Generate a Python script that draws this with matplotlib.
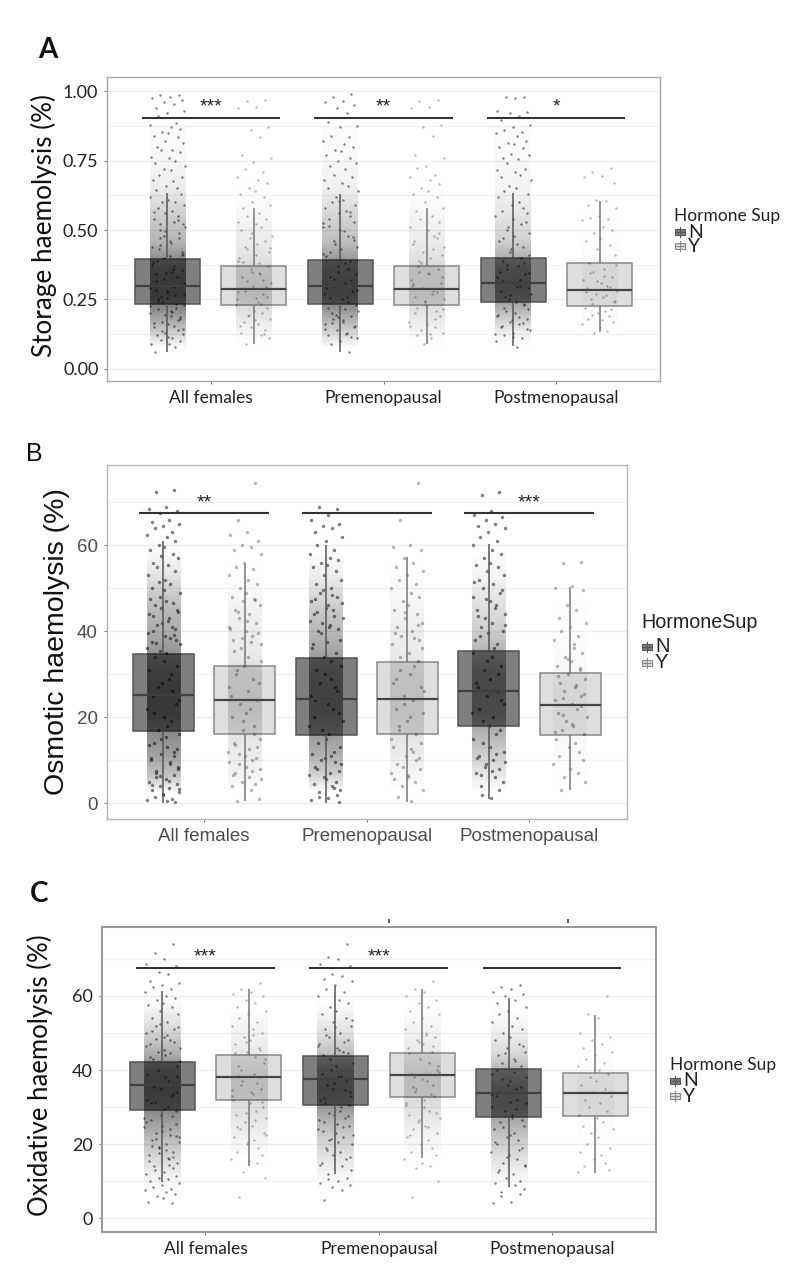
import numpy as np
import matplotlib
matplotlib.use("Agg")
import matplotlib.pyplot as plt
from matplotlib.patches import Rectangle
from matplotlib.lines import Line2D

W, H = 794, 1270
categories = ["All females", "Premenopausal", "Postmenopausal"]
hormone = ["N", "Y"]

# box statistics per group: whisker low, q1, median, q3, whisker high
A_stats = [[.06, .235, .300, .395, .635], [.09, .230, .288, .372, .578],
           [.06, .232, .298, .393, .630], [.09, .230, .288, .372, .578],
           [.082, .239, .308, .400, .633], [.132, .225, .283, .383, .603]]
B_stats = [[0, 16.8, 25.2, 34.6, 61], [.5, 16.1, 24.1, 31.9, 55.6],
           [0, 15.8, 24.3, 33.7, 60], [.3, 16.2, 24.2, 32.8, 57.3],
           [1, 18, 26.2, 35.3, 60.2], [3, 15.9, 22.8, 30.3, 50.2]]
C_stats = [[9.9, 29.3, 36, 42.3, 61.2], [14, 31.8, 38, 44, 61.9],
           [12, 30.7, 37.7, 43.7, 62.7], [16.2, 32.6, 38.7, 44.5, 62],
           [8.4, 27.4, 33.7, 40.2, 59.5], [12.3, 27.5, 33.9, 39.2, 54.9]]

# visual density of the jitter cloud, estimated by eye per value band
A_levels = [.05, .10, .15, .20, .25, .30, .35, .40, .45, .50, .55, .60, .65, .70, .75, .80, .85, .90, .95, 1.0]
A_shade = [[0, .16, .32, .46, .55, .55, .52, .42, .30, .25, .20, .14, .08, .06, .04, .03, .02, .01, 0, 0],
           [0, .03, .08, .13, .17, .17, .15, .11, .08, .06, .04, .02, .01, 0, 0, 0, 0, 0, 0, 0],
           [0, .14, .28, .42, .50, .50, .47, .38, .26, .21, .17, .12, .07, .05, .03, .02, .02, .01, 0, 0],
           [0, .03, .08, .12, .16, .16, .15, .11, .08, .06, .04, .02, .01, 0, 0, 0, 0, 0, 0, 0],
           [0, .05, .16, .30, .44, .46, .42, .30, .20, .15, .11, .08, .05, .04, .03, .02, .02, .01, 0, 0],
           [0, 0, .01, .02, .03, .04, .03, .02, .01, .01, .01, 0, 0, 0, 0, 0, 0, 0, 0, 0]]
B_levels = [0, 5, 10, 15, 20, 25, 30, 35, 40, 45, 50, 55, 60, 65, 70]
B_shade = [[0, .26, .38, .46, .55, .55, .52, .42, .32, .28, .20, .09, .02, 0, 0],
           [0, .05, .08, .11, .15, .15, .14, .08, .07, .06, .03, .01, 0, 0, 0],
           [0, .20, .32, .40, .48, .48, .46, .36, .28, .22, .14, .06, .01, 0, 0],
           [0, .04, .08, .11, .14, .14, .13, .08, .07, .05, .03, .01, 0, 0, 0],
           [0, .10, .20, .30, .42, .44, .42, .30, .20, .14, .09, .04, .01, 0, 0],
           [0, .01, .02, .03, .04, .04, .03, .02, .01, .01, 0, 0, 0, 0, 0]]
C_levels = [5, 10, 15, 20, 25, 30, 35, 40, 45, 50, 55, 60, 65]
C_shade = [[0, .06, .16, .26, .38, .50, .55, .50, .33, .20, .10, .02, 0],
           [0, 0, .01, .05, .09, .13, .16, .14, .09, .06, .03, 0, 0],
           [0, .04, .11, .18, .28, .42, .48, .42, .26, .14, .07, .01, 0],
           [0, 0, .01, .04, .08, .13, .15, .15, .09, .06, .03, 0, 0],
           [0, .05, .13, .21, .32, .42, .42, .30, .16, .08, .03, 0, 0],
           [0, 0, 0, .01, .02, .03, .03, .02, .01, 0, 0, 0, 0]]

# individual points (values)
A_all_N = [.985, .985, .98, .975, .97, .96, .955, .94, .93, .92, .91, .885, .88, .87, .865, .855, .85, .84, .835, .82, .815, .80, .79, .79, .78, .765, .76, .75, .74, .73, .72, .715, .70, .69, .68, .675, .66, .65, .645, .63, .62, .61, .60, .60, .59, .58, .57, .56, .55, .54, .53, .52, .50, .49, .47, .46, .44, .42, .40, .37, .34, .31, .28, .25, .22, .20, .19, .18, .17, .16, .15, .14, .13, .125, .12, .11, .105, .10, .09, .09, .08, .06,
           .51, .48, .455, .43, .41, .385, .36, .345, .33, .315, .30, .29, .275, .265, .24, .23, .215, .205, .195, .175, .165, .155, .145, .52, .47, .445, .405, .375, .355, .325, .295, .285, .27, .255, .245, .235, .225, .21, .185, .135, .115, .565, .535, .495, .415, .39, .35, .26]
A_all_Y = [.97, .965, .945, .94, .87, .86, .835, .77, .76, .745, .72, .71, .69, .68, .67, .65, .64, .63, .62, .60, .59, .58, .56, .55, .54, .53, .52, .51, .50, .48, .47, .45, .44, .42, .40, .38, .35, .32, .29, .26, .23, .21, .20, .19, .18, .17, .16, .15, .14, .13, .12, .11, .09,
           .46, .43, .41, .39, .37, .36, .34, .33, .31, .30, .28, .27, .25, .24, .22, .195, .175, .155, .125, .49, .435, .385, .345, .315, .295, .275, .255, .235]
A_pre_N = [.99, .98, .965, .96, .95, .94, .92, .89, .875, .87, .84, .835, .82, .81, .80, .79, .785, .77, .76, .75, .74, .73, .72, .70, .69, .68, .67, .66, .65, .64, .62, .61, .60, .59, .58, .57, .56, .55, .54, .53, .51, .50, .48, .46, .44, .42, .38, .35, .32, .29, .26, .23, .20, .19, .18, .17, .16, .15, .14, .13, .12, .11, .10, .09, .06,
           .525, .495, .475, .45, .43, .405, .39, .37, .34, .33, .31, .30, .28, .27, .25, .24, .22, .21, .195, .175, .165, .155, .145, .125, .605, .565, .515, .465, .415, .395, .36, .325, .285, .255, .215, .185, .115]
A_pre_Y = [.97, .965, .945, .94, .88, .87, .84, .77, .76, .73, .725, .70, .69, .68, .665, .65, .64, .63, .62, .60, .58, .57, .55, .54, .53, .51, .50, .48, .46, .44, .42, .40, .37, .33, .30, .27, .24, .21, .20, .19, .17, .16, .15, .14, .13, .12, .11, .09,
           .47, .45, .43, .41, .39, .36, .35, .34, .32, .31, .29, .28, .26, .25, .23, .22, .18, .155, .125, .49, .38, .345, .305, .275, .245, .215]
A_post_N = [.98, .98, .975, .93, .925, .92, .91, .895, .88, .87, .86, .855, .85, .84, .82, .815, .81, .80, .795, .775, .77, .76, .755, .74, .72, .715, .71, .70, .69, .68, .66, .65, .64, .63, .62, .60, .59, .58, .57, .56, .55, .54, .52, .50, .49, .47, .45, .42, .38, .35, .32, .29, .26, .23, .21, .20, .19, .18, .17, .16, .15, .14, .13, .12, .11, .10, .08,
           .53, .51, .48, .46, .44, .43, .41, .39, .37, .36, .34, .33, .31, .30, .28, .27, .25, .24, .22, .215, .195, .185, .175, .165, .155, .145, .125, .115, .40, .375, .345, .315, .295, .265, .235]
A_post_Y = [.725, .71, .695, .69, .67, .61, .605, .59, .58, .55, .545, .54, .535, .51, .50, .49, .47, .46, .445, .43, .41, .38, .36, .35, .33, .32, .31, .30, .29, .28, .27, .26, .25, .24, .22, .21, .20, .19, .18, .17, .16, .15, .135, .13,
            .375, .345, .335, .315, .295, .275, .265, .245, .235, .215, .195, .175]
B_all_N = [72.8, 72.4, 69, 68.5, 68, 67.5, 66, 65.5, 65, 64.5, 64, 63, 62.5, 62, 61, 60, 59.5, 59, 58, 57.5, 57, 56, 55.5, 55, 54, 53, 52, 51, 50, 49, 48, 47, 46, 45, 44, 43, 42, 41, 40, 38, 36, 33, 30, 27, 24, 21, 18, 15, 12, 10, 9, 8, 7, 6.5, 6, 5.5, 5, 4.5, 4, 3.5, 3, 2.5, 2, 1.5, 1, .8, .5, .2,
           51.5, 49.5, 47.5, 46.5, 45.5, 44.5, 43.5, 42.5, 41.5, 40.5, 39.5, 39, 38.5, 37.5, 37, 35.5, 35, 34, 32, 31, 29, 28, 26, 25, 23, 22, 20, 19, 17, 16, 14, 13, 11.5, 11, 10.5, 9.5, 8.5, 7.5, 39.2, 37.2, 15.5, 13.5, 12.5, 6.2, 5.2, 4.2, 3.2, 2.2]
B_all_Y = [74.5, 66, 63, 62.5, 61, 60, 59.5, 59, 58, 56, 55, 54.5, 53, 52, 51, 50, 49, 48, 47.5, 47, 46, 45, 44, 43, 42, 41, 40, 39, 38, 37, 36, 34, 31, 28, 25, 22, 19, 16, 14, 13, 12, 11, 10, 9, 8, 7, 6, 5, 4.5, 4, 3, 1, .6,
           47.2, 44.5, 42.5, 40.5, 39.5, 38.5, 37.5, 35.5, 33, 32, 30, 29, 27, 26, 24, 23, 21, 20, 18, 17, 15, 13.5, 12.5, 11.5, 10.5, 9.5, 8.5, 7.5, 6.5, 5.5]
B_pre_N = [68.5, 69, 67, 66, 65, 64.5, 64, 63, 62, 61, 60, 59, 58, 57, 56.5, 56, 55.5, 55, 54, 53, 52, 51, 50, 49, 48, 47, 46, 45, 44, 43, 42, 41, 40, 38, 36, 33, 30, 27, 24, 21, 18, 15, 12, 10, 9, 8, 7, 6, 5, 4.5, 4, 3, 2.5, 2, 1.5, 1.2, .8, .2,
           49.5, 48.5, 47.5, 46.5, 45.5, 44.5, 43.5, 42.5, 41.5, 40.5, 39.5, 37.5, 37, 35, 34, 32, 31, 29, 28, 26, 25, 23, 22, 20, 19, 17, 16, 14, 13, 11.5, 11, 10.5, 9.5, 8.5, 7.5, 6.5, 5.5, 3.5]
B_pre_Y = [74.5, 66, 60, 59.5, 59, 57, 56, 55, 54, 53, 52, 51, 50, 49, 48, 47, 46, 45, 44, 43, 42, 41, 40, 39, 38, 37, 35, 32, 29, 26, 23, 20, 17, 14, 13, 12, 11, 10, 9, 8, 7, 6, 5, 4, 3, 1.5, .5,
           44.5, 41.5, 39.5, 38.5, 36, 34, 33, 31, 30, 28, 27, 25, 24, 22, 21, 19, 18, 16, 15, 12.5, 10.5, 8.5, 6.5, 5.5]
B_post_N = [72.5, 71.8, 68, 67, 66.5, 66, 65, 64.5, 64, 63, 62, 61, 60, 59, 58, 57, 56, 55.5, 55, 54, 53, 52, 51, 50, 49, 48, 47, 46, 45, 44, 43, 42, 41, 40, 38, 36, 33, 30, 27, 24, 21, 18, 16, 14, 12, 11, 10, 9, 8, 7, 6, 5, 4, 3, 2, 1.2,
            51.5, 49.5, 47.5, 45.5, 43.5, 41.5, 39.5, 39, 37, 35, 34, 32, 31, 29, 28, 26, 25, 23, 22, 20, 19, 17, 15, 13, 11.5, 10.5, 9.5, 8.5, 7.5, 6.5]
B_post_Y = [56.2, 55.8, 50.5, 50, 49.5, 46, 45, 43, 42, 41, 40, 39, 38, 36, 35, 34, 33, 32, 31, 30, 29, 28, 27, 26, 25, 24, 23, 22, 21, 20, 19, 18, 17, 16, 15, 14, 13, 12, 11, 10, 9, 8, 7, 6, 5, 3,
            37, 33.5, 31.5, 29.5, 27.5, 25.5, 24.5, 22.5, 20.5, 18.5, 16.5]
C_all_N = [74, 71.5, 70, 68.5, 68.2, 66.5, 66, 64, 63.5, 63, 62.5, 62, 61, 60, 59.5, 59, 58, 57.5, 57, 56, 55, 54, 53, 52, 51, 50, 49, 48, 47, 46, 45, 44, 43, 41, 39, 37, 35, 33, 31, 29, 27, 25, 24, 23, 22, 21, 20, 19, 18, 17, 16, 15, 14, 13.5, 13, 12.5, 12, 11.5, 11, 10.5, 10, 9.5, 9, 8.5, 8, 7.5, 7, 6.5, 6, 5.5, 4.5, 4,
           52.5, 51.5, 50.5, 49.5, 48.5, 47.5, 46.5, 45.5, 44.5, 43.5, 42.5, 40, 38, 36, 34, 32, 30, 28, 27.5, 26.5, 25.5, 24.5, 23.5, 22.5, 21.5, 20.5, 19.5, 18.5, 17.5, 16.5, 15.5, 14.5, 38.5, 35.5, 33.5, 31.5, 29.5, 26, 22.2, 19.2, 16.2]
C_all_Y = [63.5, 62, 61, 60.5, 60, 59, 58, 57, 56, 55, 54, 53, 52, 51, 50, 49, 48, 47, 46, 45, 43, 41, 39, 37, 35, 33, 31, 29, 28, 27, 26, 25, 24, 23, 22, 21, 20, 19, 18, 17, 16, 15.5, 15, 12.5, 11, 5.7,
           49.5, 47.5, 45.5, 44.5, 43.5, 42, 40, 38, 36, 34, 32, 30, 28.5, 26.5, 24.5, 22.5, 20.5, 38.5, 36.5, 34.5, 33.5, 31.5]
C_pre_N = [74, 70.5, 70, 68.5, 68.2, 66, 65.5, 64.5, 64, 63, 62, 61, 60, 59, 58, 57, 56, 55, 54, 53, 52, 51, 50, 49, 48, 47, 46, 45, 44, 42, 40, 38, 36, 34, 32, 30, 28, 27, 26, 25, 24, 23, 22, 21, 20, 19, 18, 17, 16, 15, 14, 13, 12, 11, 10.5, 10, 9.5, 9, 8.5, 7.5, 5,
           53.5, 51.5, 49.5, 47.5, 46.5, 45.5, 44.5, 43, 41, 39, 37, 35, 33, 31, 29, 28.5, 27.5, 26.5, 25.5, 24.5, 23.5, 22.5, 21.5, 20.5, 18.5, 16.5, 14.5, 38.5, 36.5, 34.5, 32.5, 30.5]
C_pre_Y = [64, 62, 61, 60, 59, 58, 57, 56, 55, 54, 53, 52, 51, 50, 49, 48, 47, 46, 45, 43, 41, 39, 37, 35, 33, 31, 30, 29, 28, 27, 26, 25, 24, 23, 22, 21, 20, 19, 18, 17, 16, 15, 14, 13.5, 10, 5.7,
           49.5, 47.5, 46.5, 44.5, 42, 40, 38, 36, 34, 32, 30.5, 28.5, 26.5, 24.5, 22.5, 39.5, 37.5, 35.5, 33.5]
C_post_N = [63, 62.5, 62, 61, 60.5, 60, 59, 58, 57, 56, 55, 54, 53, 52, 51, 50, 49, 48, 47, 46, 45, 44, 43, 42, 41, 39, 37, 35, 33, 31, 29, 27, 26, 25, 24, 23, 22, 21, 20, 19, 18, 17, 16, 15, 14, 13, 12, 11, 10, 9.5, 9, 8, 7, 6.5, 6, 4.5, 4,
            46.5, 44.5, 42.5, 40, 38, 36, 34, 32, 30, 28, 26.5, 24.5, 22.5, 20.5, 18.5, 16.5, 14.5, 12.5, 39.5, 37.5, 35.5, 33.5, 31.5, 29.5]
C_post_Y = [60, 55, 54, 50, 49, 48, 47, 46, 45, 44, 43, 42, 41, 40, 39, 38, 37, 36, 35, 34, 33, 32, 31, 30, 29, 28, 27, 26, 25, 24, 23, 22, 20, 19, 18, 17, 16, 15, 14, 13, 12.5]

# jitter offsets as fractions of the jitter half-width, used in turn
jitter = [.62, -.41, .13, -.87, .79, -.18, .35, -.66, .94, -.03, -.52, .48, -.95, .21, .71, -.29, .05, -.77, .56, -.12,
          .88, -.59, .27, -.36, .67, -.91, .09, .41, -.7, .98, -.22, .17, -.48, .83, -.83, .31, -.08, .53, -.63, .75,
          -.99, .01, .44, -.33, .91, -.55, .24, -.15, .6, -.74, .37, .85, -.44]

panels = [
    dict(letter="A", box=(107, 77, 660, 381), ylim=(-.044, 1.0515), stats=A_stats, levels=A_levels, shade=A_shade,
         pts=[A_all_N, A_all_Y, A_pre_N, A_pre_Y, A_post_N, A_post_Y], yticks=[0, .25, .5, .75, 1.0],
         ylabels=["0.00", "0.25", "0.50", "0.75", "1.00"], minor=[.125, .375, .625, .875],
         ylabel="Storage haemolysis (%)", stars=["***", "**", "*"], line=.902, stary=.945),
    dict(letter="B", box=(106.5, 465, 627, 819), ylim=(-3.7, 78.7), stats=B_stats, levels=B_levels, shade=B_shade,
         pts=[B_all_N, B_all_Y, B_pre_N, B_pre_Y, B_post_N, B_post_Y], yticks=[0, 20, 40, 60],
         ylabels=["0", "20", "40", "60"], minor=[10, 30, 50, 70],
         ylabel="Osmotic haemolysis (%)", stars=["**", "", "***"], line=67.5, stary=69.8),
    dict(letter="C", box=(101.5, 927, 656, 1232), ylim=(-3.7, 78.6), stats=C_stats, levels=C_levels, shade=C_shade,
         pts=[C_all_N, C_all_Y, C_pre_N, C_pre_Y, C_post_N, C_post_Y], yticks=[0, 20, 40, 60],
         ylabels=["0", "20", "40", "60"], minor=[10, 30, 50, 70],
         ylabel="Oxidative haemolysis (%)", stars=["***", "***", ""], line=67.5, stary=70.5),
]
style = {
    "A": dict(font="Lato", tick=13, xt=12.5, yl=18.8, tc="#222222", leg=12.5, kleg=14, ms=3.0, border="#a8a8a8", blw=1.0,
              ylx=44, yly=226, letter=(48, 50), lsize=20, lw="bold", title="Hormone Sup", title_xy=(674, 216),
              keyx=675, keyy=(232, 246)),
    "B": dict(font="Liberation Sans", tick=13.5, xt=13.5, yl=20.5, tc="#4d4d4d", leg=14.2, kleg=14.5, ms=6.0, border="#b5b5b5", blw=1.0,
              ylx=57, yly=642, letter=(34, 454), lsize=18, lw="normal", title="HormoneSup", title_xy=(641, 622),
              keyx=642, keyy=(647, 663)),
    "C": dict(font="Lato", tick=13, xt=12.5, yl=18.5, tc="#222222", leg=12.5, kleg=14, ms=3.0, border="#999999", blw=1.5,
              ylx=40, yly=1075, letter=(39, 894), lsize=20, lw="bold", title="Hormone Sup", title_xy=(670, 1065),
              keyx=670, keyy=(1081, 1096)),
}

FILL = ["#7f7f7f", "#dedede"]
EDGE = ["#555555", "#8a8a8a"]
WHISK = ["#555555", "#777777"]
MED = ["#404040", "#444444"]
POINT_ALPHA = [.5, .28]
DODGE, BOXW, JW = .25, .375, .104

fig = plt.figure(figsize=(W / 100, H / 100), dpi=100, facecolor="white")


def fx(x):
    return x / W


def fy(y):
    return 1 - y / H


for p in panels:
    s = style[p["letter"]]
    x0, y0, x1, y1 = p["box"]
    ax = fig.add_axes([fx(x0), fy(y1), (x1 - x0) / W, (y1 - y0) / H])
    ax.set_xlim(.4, 3.6)
    ax.set_ylim(*p["ylim"])
    ax.set_axisbelow(True)
    ax.set_yticks(p["yticks"], p["ylabels"], family=s["font"], fontsize=s["tick"], color=s["tc"])
    ax.set_yticks(p["minor"], minor=True)
    ax.set_xticks([1, 2, 3], categories, family=s["font"], fontsize=s["xt"], color=s["tc"])
    ax.tick_params(axis="both", which="major", length=2.2, width=.7, color="#777777", pad=4)
    ax.tick_params(axis="y", which="minor", length=0)
    ax.grid(True, axis="y", which="major", color="#eeeeee", lw=1)
    ax.grid(True, axis="y", which="minor", color="#f2f2f2", lw=.9)
    for sp in ax.spines.values():
        sp.set_color(s["border"])
        sp.set_linewidth(s["blw"])
    ax.set_ylabel(p["ylabel"], family=s["font"], fontsize=s["yl"], color="#111111", va="center")
    ax.yaxis.set_label_coords((s["ylx"] - x0) / (x1 - x0), 1 - (s["yly"] - y0) / (y1 - y0))

    lv = np.array(p["levels"], float)
    for i, st in enumerate(p["stats"]):
        cat = i // 2 + 1
        h = i % 2
        c = cat + (-DODGE if h == 0 else DODGE)
        lo, q1, med, q3, hi = st
        ax.add_patch(Rectangle((c - BOXW / 2, q1), BOXW, q3 - q1, fc=FILL[h], ec=EDGE[h], lw=1.1, zorder=2))
        rgba = np.zeros((len(lv), 1, 4))
        rgba[:, 0, 3] = p["shade"][i]
        ax.imshow(rgba[::-1], extent=(c - JW, c + JW, lv[0], lv[-1]), aspect="auto",
                  interpolation="bilinear", zorder=3)
        vals = np.array(p["pts"][i], float)
        offs = np.array([jitter[k % len(jitter)] for k in range(len(vals))])
        ax.scatter(c + offs * JW, vals, s=s["ms"], c="black", alpha=POINT_ALPHA[h], linewidths=0, zorder=3.5)
        ax.vlines(c, lo, q1, color=WHISK[h], lw=1.1, zorder=4)
        ax.vlines(c, q3, hi, color=WHISK[h], lw=1.1, zorder=4)
        ax.hlines(med, c - BOXW / 2, c + BOXW / 2, color=MED[h], lw=1.6, zorder=4)
    ax.set_xlim(.4, 3.6)
    ax.set_ylim(*p["ylim"])

    for k, star in enumerate(p["stars"]):
        ax.hlines(p["line"], k + .6, k + 1.4, color="#333333", lw=1.5, zorder=5)
        if star:
            ax.text(k + 1, p["stary"], star, ha="center", va="center", fontsize=14, family="Liberation Sans",
                    color="#222222", zorder=6)

    fig.text(fx(s["letter"][0]), fy(s["letter"][1]), p["letter"], family=s["font"], fontsize=s["lsize"],
             fontweight=s["lw"], ha="center", va="center", color="#111111")
    fig.text(fx(s["title_xy"][0]), fy(s["title_xy"][1]), s["title"], family=s["font"], fontsize=s["leg"],
             ha="left", va="center", color="#222222")
    for h, ky in enumerate(s["keyy"]):
        kx = s["keyx"]
        fig.add_artist(Line2D([fx(kx + 5), fx(kx + 5)], [fy(ky - 5), fy(ky + 5)], color=EDGE[h], lw=.8))
        fig.add_artist(Rectangle((fx(kx), fy(ky + 3)), 10 / W, 6 / H, fc=FILL[h], ec=EDGE[h], lw=.8,
                                 transform=fig.transFigure))
        fig.add_artist(Line2D([fx(kx), fx(kx + 10)], [fy(ky), fy(ky)], color=EDGE[h], lw=.8))
        fig.text(fx(kx + 13), fy(ky), hormone[h], family=s["font"], fontsize=s["kleg"], ha="left", va="center",
                 color="#222222")
    if p["letter"] == "C":
        ax.vlines([2.06, 3.09], 79.8, 80.7, color="#444444", lw=1.2, clip_on=False)

fig.savefig("out.png", dpi=100)
